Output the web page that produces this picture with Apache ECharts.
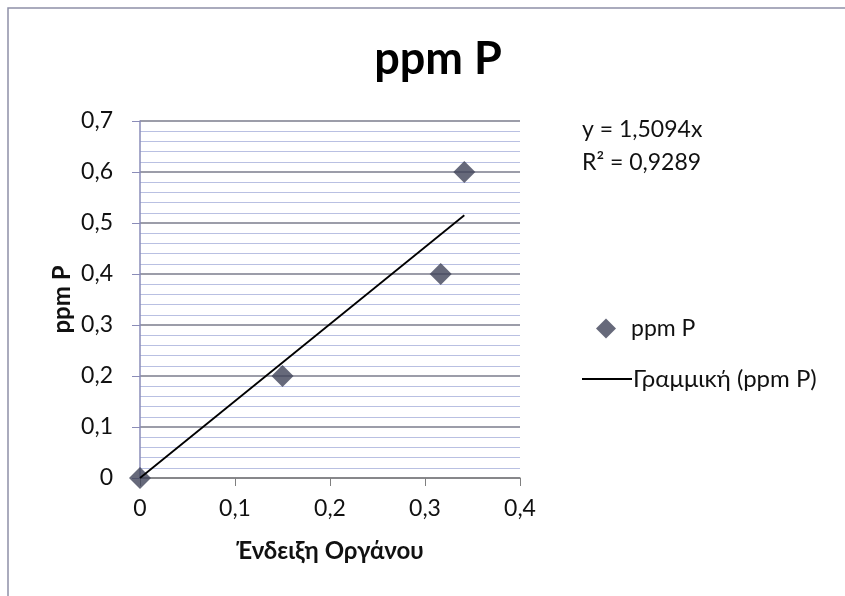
<!DOCTYPE html>
<html>
<head>
<meta charset="utf-8">
<script src="https://cdn.jsdelivr.net/npm/echarts@6/dist/echarts.min.js"></script>
<style>
  html, body { margin: 0; padding: 0; background: #fff; }
  #chart { width: 845px; height: 596px; }
</style>
</head>
<body>
<div id="chart"></div>
<script>
// Instrument reading vs. phosphorus concentration
const instrumentReading = [0, 0.15, 0.3165, 0.3414];
const ppmP = [0, 0.2, 0.4, 0.6];
const slope = 1.5094;
const rSquared = 0.9289;
const xTicks = [0, 0.1, 0.2, 0.3, 0.4];
const yTicks = [0, 0.1, 0.2, 0.3, 0.4, 0.5, 0.6, 0.7];

const FONT = "Lato, 'Noto Sans', sans-serif";
const fmt = v => String(+v.toFixed(4)).replace('.', ',');

const points = instrumentReading.map((x, i) => [x, ppmP[i]]);
const xMax = Math.max(...instrumentReading);
const trend = [[0, 0], [xMax, slope * xMax]];

const chart = echarts.init(document.getElementById('chart'), null, { renderer: 'canvas' });
chart.setOption({
  backgroundColor: '#ffffff',
  animation: false,
  title: {
    text: 'ppm P',
    left: 433, top: 32, textAlign: 'center',
    textStyle: { fontFamily: FONT, fontWeight: 'bold', fontSize: 45, color: '#000' }
  },
  grid: { left: 140, right: 325, top: 121, bottom: 118 },
  xAxis: {
    type: 'value', min: xTicks[0], max: xTicks[xTicks.length - 1], interval: 0.1,
    name: 'Ένδειξη Οργάνου', nameLocation: 'middle', nameGap: 61,
    nameTextStyle: { fontFamily: FONT, fontWeight: 'bold', fontSize: 24, color: '#111' },
    axisLine: { show: true, lineStyle: { color: '#808080', width: 1.5 } },
    axisTick: { show: true, length: 8, lineStyle: { color: '#808080' } },
    axisLabel: { formatter: fmt, fontFamily: FONT, fontSize: 23, color: '#111', margin: 19 },
    splitLine: { show: false }
  },
  yAxis: {
    type: 'value', min: yTicks[0], max: yTicks[yTicks.length - 1], interval: 0.1,
    name: 'ppm P', nameLocation: 'middle', nameGap: 66, nameRotate: 90,
    nameTextStyle: { fontFamily: FONT, fontWeight: 'bold', fontSize: 24, color: '#111' },
    axisLine: { show: true, lineStyle: { color: '#8a8cb8', width: 1.5 } },
    axisTick: { show: true, length: 8, lineStyle: { color: '#8a8cb8' } },
    axisLabel: { formatter: fmt, fontFamily: FONT, fontSize: 23, color: '#111', margin: 27 },
    minorTick: { show: false, splitNumber: 5 },
    minorSplitLine: { show: true, lineStyle: { color: '#b9c0e2', width: 1 } },
    splitLine: { show: true, lineStyle: { color: '#7b7d8c', width: 1.5 } }
  },
  legend: [
    {
      data: [{ name: 'ppm P', icon: 'diamond' }],
      left: 591, top: 312, orient: 'vertical',
      itemWidth: 20, itemHeight: 20, itemGap: 10,
      textStyle: { fontFamily: FONT, fontSize: 23, color: '#111', padding: [0, 0, 0, 10] }
    },
    {
      data: [{ name: 'Γραμμική (ppm P)', icon: 'path://M0,0 L50,0 L50,2 L0,2 Z' }],
      left: 577, top: 362, orient: 'vertical',
      itemWidth: 50, itemHeight: 2,
      textStyle: { fontFamily: FONT, fontSize: 24, color: '#111', padding: [0, 0, 0, -4] }
    }
  ],
  graphic: [
    {
      type: 'rect', silent: true, z: -1,
      shape: { x: 8, y: 8, width: 900, height: 700 },
      style: { fill: 'none', stroke: '#8e90a8', lineWidth: 1.5 }
    },
    {
      type: 'text', left: 582, top: 113,
      style: {
        text: 'y = ' + fmt(slope) + 'x\nR² = ' + fmt(rSquared),
        fontFamily: FONT, fontSize: 23, lineHeight: 33, fill: '#111'
      }
    }
  ],
  series: [
    {
      name: 'Γραμμική (ppm P)', type: 'line', data: trend,
      showSymbol: false, symbol: 'none',
      lineStyle: { color: '#000', width: 1.8 },
      itemStyle: { color: '#000' },
      z: 3
    },
    {
      name: 'ppm P', type: 'scatter', data: points,
      symbol: 'diamond', symbolSize: 22,
      itemStyle: { color: '#404359' },
      z: 2
    }
  ]
});
</script>
</body>
</html>
